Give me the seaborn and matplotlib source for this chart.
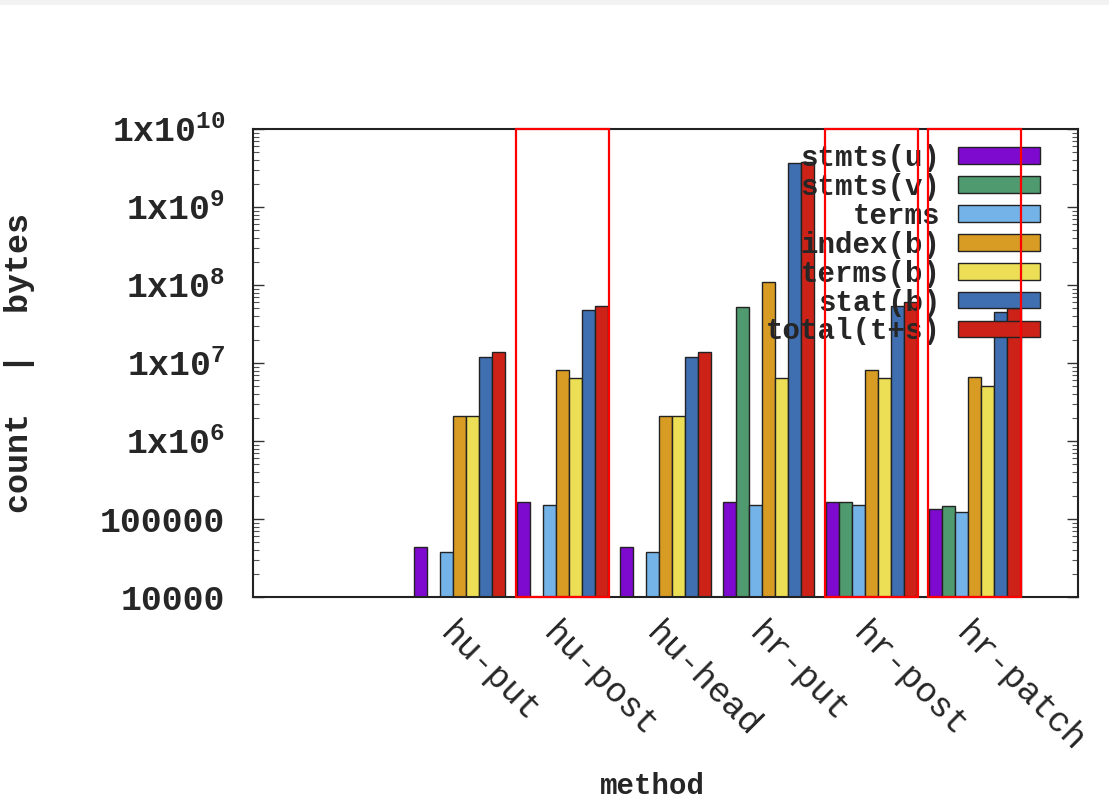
import numpy as np
import pandas as pd
import matplotlib
matplotlib.use("Agg")
import matplotlib.pyplot as plt
import matplotlib.ticker as mticker
import matplotlib.transforms as mtransforms
from matplotlib.patches import Rectangle
import seaborn as sns

methods = ["hu-put", "hu-post", "hu-head", "hr-put", "hr-post", "hr-patch"]
series = ["stmts(u)", "stmts(v)", "terms", "index(b)", "terms(b)", "stat(b)", "total(t+s)"]
stmts_u = [44000, 167000, 44000, 167000, 167000, 134000]
stmts_v = [np.nan, np.nan, np.nan, 52000000, 167000, 148000]
terms = [38000, 151000, 38000, 151000, 151000, 122000]
index_b = [2.1e6, 8.1e6, 2.1e6, 1.1e8, 8.1e6, 6.7e6]
terms_b = [2.1e6, 6.4e6, 2.1e6, 6.4e6, 6.4e6, 5.1e6]
stat_b = [1.18e7, 4.8e7, 1.18e7, 3.7e9, 5.4e7, 4.5e7]
total_ts = [1.4e7, 5.4e7, 1.4e7, 3.8e9, 6.1e7, 5.1e7]
highlighted = ["hu-post", "hr-post", "hr-patch"]
ytick_vals = [1e4, 1e5, 1e6, 1e7, 1e8, 1e9, 1e10]
ytick_labels = ["10000", "100000", "1x10$^{6}$", "1x10$^{7}$", "1x10$^{8}$",
                "1x10$^{9}$", "1x10$^{10}$"]

colors = ["#7E0AD0", "#4F9A6E", "#74B3E8", "#D89C24", "#EDDF55", "#3F6FB0", "#CC2217"]

values = [stmts_u, stmts_v, terms, index_b, terms_b, stat_b, total_ts]
rows = []
for s, vals in zip(series, values):
    for m, v in zip(methods, vals):
        rows.append({"method": m, "series": s, "value": v})
df = pd.DataFrame(rows).dropna()

sns.set_style("ticks")
mono = "Liberation Mono"
plt.rcParams["font.family"] = [mono, "DejaVu Sans"]
plt.rcParams["mathtext.fontset"] = "custom"
plt.rcParams["mathtext.rm"] = mono + ":bold"
plt.rcParams["mathtext.default"] = "rm"

fig = plt.figure(figsize=(11.09, 8.08), dpi=100)
ax = fig.add_axes([253 / 1109, 1 - 597 / 808, (1078 - 253) / 1109, (597 - 129) / 808])
ax.set_yscale("log")

sns.barplot(data=df, x="method", y="value", hue="series", order=methods,
            hue_order=series, palette=dict(zip(series, colors)), width=0.885,
            errorbar=None, edgecolor="#222222", linewidth=1.0,
            saturation=1, ax=ax)

# bars on a log axis: start them below the visible floor
for cont in ax.containers:
    for p in cont.patches:
        top = p.get_y() + p.get_height()
        p.set_y(1.0)
        p.set_height(top - 1.0)

ax.set_xlim(-2.0, 6.0)
ax.set_ylim(1e4, 1e10)

ax.yaxis.set_major_locator(mticker.FixedLocator(ytick_vals))
ax.yaxis.set_major_formatter(mticker.FixedFormatter(ytick_labels))
ax.yaxis.set_minor_locator(mticker.LogLocator(base=10, subs=np.arange(2, 10), numticks=20))
ax.yaxis.set_minor_formatter(mticker.NullFormatter())
ax.tick_params(axis="y", which="major", direction="in", length=8, width=1.0,
               left=True, right=True, labelsize=25, pad=20, color="#333333")
ax.tick_params(axis="y", which="minor", direction="in", length=4, width=0.8,
               left=True, right=True, color="#555555")
for lab in ax.get_yticklabels():
    lab.set_fontweight("bold")

ax.set_xticks(range(len(methods)))
ax.set_xticklabels(methods)
ax.tick_params(axis="x", length=0, labelsize=25, pad=14)
for lab in ax.get_xticklabels():
    lab.set_rotation(-45)
    lab.set_ha("left")
    lab.set_va("top")
    lab.set_rotation_mode("anchor")
    lab.set_transform(lab.get_transform() + mtransforms.ScaledTranslation(-2 / 100, 0, fig.dpi_scale_trans))

for sp in ax.spines.values():
    sp.set_visible(True)
    sp.set_linewidth(1.5)
    sp.set_color("#222222")

ax.set_xlabel("method", fontsize=21, fontweight="bold")
ax.set_ylabel("count  |  bytes", fontsize=24, fontweight="bold")
ax.xaxis.set_label_coords((652 - 253) / (1078 - 253), -(772 - 597) / (597 - 129))
ax.yaxis.set_label_coords(-(253 - 35) / (1078 - 253), 0.5)

ax.legend(loc="upper right", bbox_to_anchor=(0.975, 1.005), frameon=False,
          markerfirst=False, prop={"family": mono, "weight": "bold", "size": 21},
          labelspacing=0.03, handlelength=2.8, handleheight=0.5, handletextpad=0.6,
          borderaxespad=0.2)

blend = mtransforms.blended_transform_factory(ax.transData, ax.transAxes)
for m in highlighted:
    i = methods.index(m)
    ax.add_patch(Rectangle((i - 0.45, 0), 0.9, 1, transform=blend, fill=False,
                           edgecolor="#FF0000", linewidth=1.6, zorder=10, clip_on=False))

fig.patches.append(Rectangle((0, 1 - 5 / 808), 1, 5 / 808, transform=fig.transFigure,
                             facecolor="#F2F2F2", edgecolor="none"))

fig.savefig("out.png", dpi=100)
